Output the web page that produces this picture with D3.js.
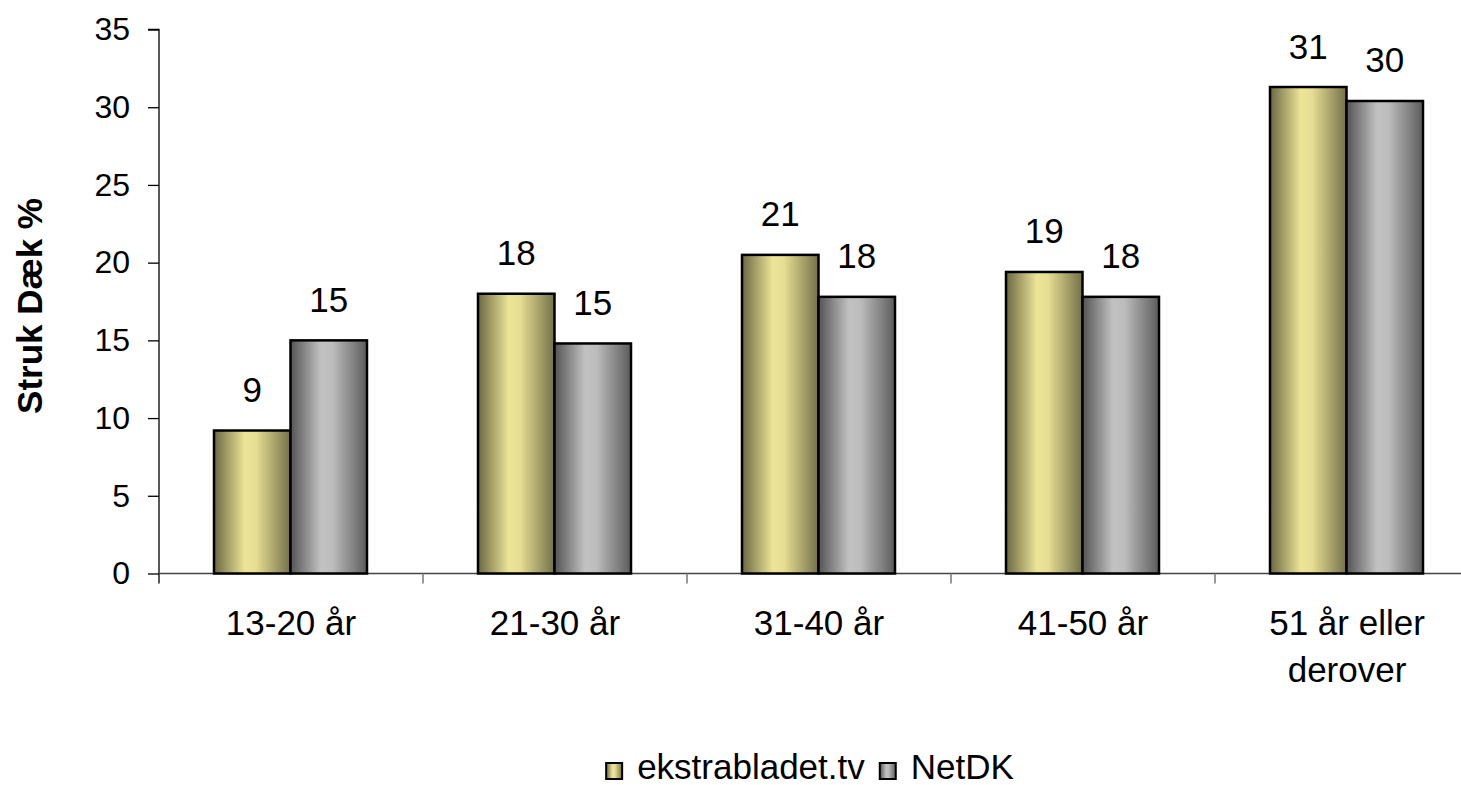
<!DOCTYPE html>
<html lang="en">
<head>
    <meta charset="utf-8">
    <title>struk_daek</title>
    <script type="text/javascript" src="https://d3js.org/d3.v7.min.js"></script>
    <style type="text/css">
        body { margin: 0; background: #fff; }
        text { font-family: "Liberation Sans", Arial, sans-serif; fill: #000; }
    </style>
</head>
<body>

<script type="text/javascript">

    // data
    var categories = [["13-20 år"], ["21-30 år"], ["31-40 år"], ["41-50 år"], ["51 år eller", "derover"]];
    var series_names = ["ekstrabladet.tv", "NetDK"];
    var ekstrabladet = [9.2, 18.0, 20.5, 19.4, 31.3];
    var netdk = [15.0, 14.8, 17.8, 17.8, 30.4];
    var y_ticks = [0, 5, 10, 15, 20, 25, 30, 35];

    var width = 1461, height = 785;
    var left = 159, top_y = 29.5, bottom_y = 573.5, band = 264;

    var svg = d3.select("body")
        .append("svg")
        .attr("width", width)
        .attr("height", height);

    // gradients: dark edges, light band a bit left of centre
    var defs = svg.append("defs");
    var grads = [
        { id: "g0", stops: [["0%", "#6b6742"], ["40%", "#ece497"], ["55%", "#e6de92"], ["100%", "#74704a"]] },
        { id: "g1", stops: [["0%", "#545454"], ["40%", "#c2c2c2"], ["55%", "#bcbcbc"], ["100%", "#5c5c5c"]] }
    ];
    grads.forEach(function (g) {
        var lg = defs.append("linearGradient").attr("id", g.id)
            .attr("x1", "0%").attr("x2", "100%").attr("y1", "0%").attr("y2", "0%");
        g.stops.forEach(function (s) {
            lg.append("stop").attr("offset", s[0]).attr("stop-color", s[1]);
        });
    });

    var x0 = d3.scaleBand()
        .domain(d3.range(categories.length))
        .range([left, left + band * categories.length])
        .padding(0);

    var x1 = d3.scaleBand()
        .domain([0, 1])
        .range([55, 208])
        .padding(0);

    var y = d3.scaleLinear()
        .domain([0, 35])
        .range([bottom_y, top_y]);

    // y axis
    var yAxis = svg.append("g")
        .attr("transform", "translate(" + left + ",0)")
        .call(d3.axisLeft(y).tickValues(y_ticks).tickSize(11).tickPadding(18));
    yAxis.select(".domain").attr("stroke", "#000").attr("stroke-width", 1.3)
        .attr("d", "M-11," + y(35) + "H0V" + (bottom_y + 10));
    yAxis.selectAll(".tick line").attr("stroke", "#000").attr("stroke-width", 1.3);
    yAxis.selectAll(".tick text")
        .style("font-size", "32px")
        .style("font-family", "'Liberation Sans', Arial, sans-serif")
        .attr("fill", "#000");

    // x axis line + ticks between groups
    svg.append("line")
        .attr("x1", left).attr("x2", left + band * categories.length)
        .attr("y1", bottom_y).attr("y2", bottom_y)
        .attr("stroke", "#444").attr("stroke-width", 1.5);
    svg.selectAll("line.xtick")
        .data(d3.range(1, categories.length))
        .enter()
        .append("line")
        .attr("class", "xtick")
        .attr("x1", d => x0(d)).attr("x2", d => x0(d))
        .attr("y1", bottom_y).attr("y2", bottom_y + 10)
        .attr("stroke", "#777").attr("stroke-width", 1.5);

    var rows = categories.map(function (c, i) {
        return { i: i, values: [ekstrabladet[i], netdk[i]] };
    });

    var groups = svg.selectAll("g.grp")
        .data(rows)
        .enter()
        .append("g")
        .attr("class", "grp")
        .attr("transform", d => "translate(" + x0(d.i) + ",0)");

    groups.selectAll("rect")
        .data(d => d.values.map((v, k) => ({ k: k, v: v })))
        .enter()
        .append("rect")
        .attr("x", d => x1(d.k))
        .attr("width", x1.bandwidth())
        .attr("y", d => y(d.v))
        .attr("height", d => bottom_y - y(d.v))
        .attr("fill", d => "url(#g" + d.k + ")")
        .attr("stroke", "#000")
        .attr("stroke-width", 2.5);

    groups.selectAll("text.val")
        .data(d => d.values.map((v, k) => ({ k: k, v: v })))
        .enter()
        .append("text")
        .attr("class", "val")
        .attr("x", d => x1(d.k) + x1.bandwidth() / 2)
        .attr("y", d => y(d.v) - 28.5)
        .attr("text-anchor", "middle")
        .style("font-size", "35px")
        .text(d => Math.round(d.v));

    // category labels
    var cat = svg.selectAll("text.cat")
        .data(categories)
        .enter()
        .append("text")
        .attr("class", "cat")
        .attr("text-anchor", "middle")
        .style("font-size", "35px")
        .attr("transform", (d, i) => "translate(" + (x0(i) + band / 2) + ",635)");
    cat.selectAll("tspan")
        .data(d => d)
        .enter()
        .append("tspan")
        .attr("x", 0)
        .attr("y", (d, j) => j * 47)
        .text(d => d);

    // y title
    svg.append("text")
        .attr("transform", "translate(42,306) rotate(-90)")
        .attr("text-anchor", "middle")
        .style("font-size", "35px")
        .style("font-weight", "bold")
        .text("Struk Dæk %");

    // legend
    var legend = svg.append("g");
    var lx = 0;
    series_names.forEach(function (name, k) {
        legend.append("rect")
            .attr("x", lx).attr("y", -16)
            .attr("width", 16).attr("height", 16)
            .attr("fill", "url(#g" + k + ")")
            .attr("stroke", "#000").attr("stroke-width", 2);
        var t = legend.append("text")
            .attr("x", lx + 31).attr("y", 0)
            .style("font-size", "35px")
            .text(name);
        lx += 31 + t.node().getComputedTextLength() + 15;
    });
    var lw = lx - 15;
    legend.attr("transform", "translate(" + (810 - lw / 2) + ",779)");

</script>
</body>
</html>
